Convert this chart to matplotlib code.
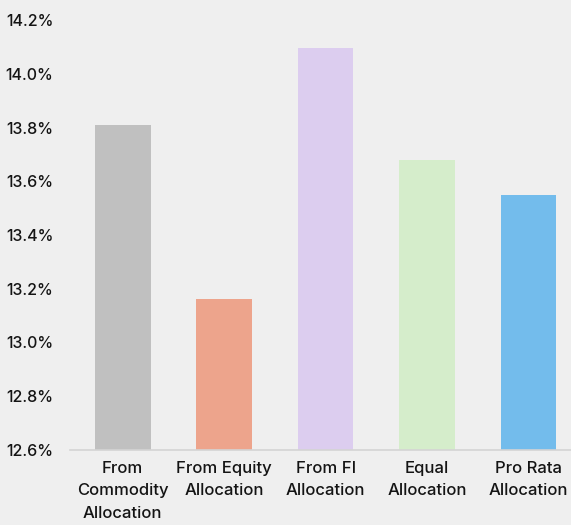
import matplotlib.pyplot as plt
from matplotlib.ticker import FuncFormatter

# data
categories = ["From\nCommodity\nAllocation", "From Equity\nAllocation", "From FI\nAllocation",
              "Equal\nAllocation", "Pro Rata\nAllocation"]
values = [13.81, 13.163, 14.095, 13.68, 13.548]
colors = ["#c0c0c0", "#eda48c", "#dccdef", "#d5edcb", "#73bcec"]
y_ticks = [12.6, 12.8, 13.0, 13.2, 13.4, 13.6, 13.8, 14.0, 14.2]

bg = "#efefef"
plt.rcParams['font.family'] = ['Inter', 'DejaVu Sans']

fig = plt.figure(figsize=(5.71, 5.25), dpi=100, facecolor=bg)
ax = fig.add_axes([70 / 571, 75 / 525, 501 / 571, 430 / 525], facecolor=bg)

x = range(len(categories))
ax.bar(x, [v - 12.6 for v in values], bottom=12.6, width=0.55, color=colors)

ax.set_ylim(12.6, 14.2)
ax.set_xlim(-0.52, 4.42)
ax.set_yticks(y_ticks)
ax.yaxis.set_major_formatter(FuncFormatter(lambda v, p: f"{v:.1f}%"))
ax.set_xticks(list(x))
ax.set_xticklabels(categories, linespacing=1.6)
ax.tick_params(axis='both', length=0, colors='#141414')
ax.tick_params(axis='x', labelsize=12, pad=8)
ax.tick_params(axis='y', labelsize=11.5, pad=12)
for lbl in ax.get_xticklabels() + ax.get_yticklabels():
    lbl.set_fontweight('medium')

for s in ['top', 'right', 'left']:
    ax.spines[s].set_visible(False)
ax.spines['bottom'].set_color('#d4d4d4')
ax.spines['bottom'].set_linewidth(1.2)

fig.savefig("out.png", dpi=100, facecolor=bg)
